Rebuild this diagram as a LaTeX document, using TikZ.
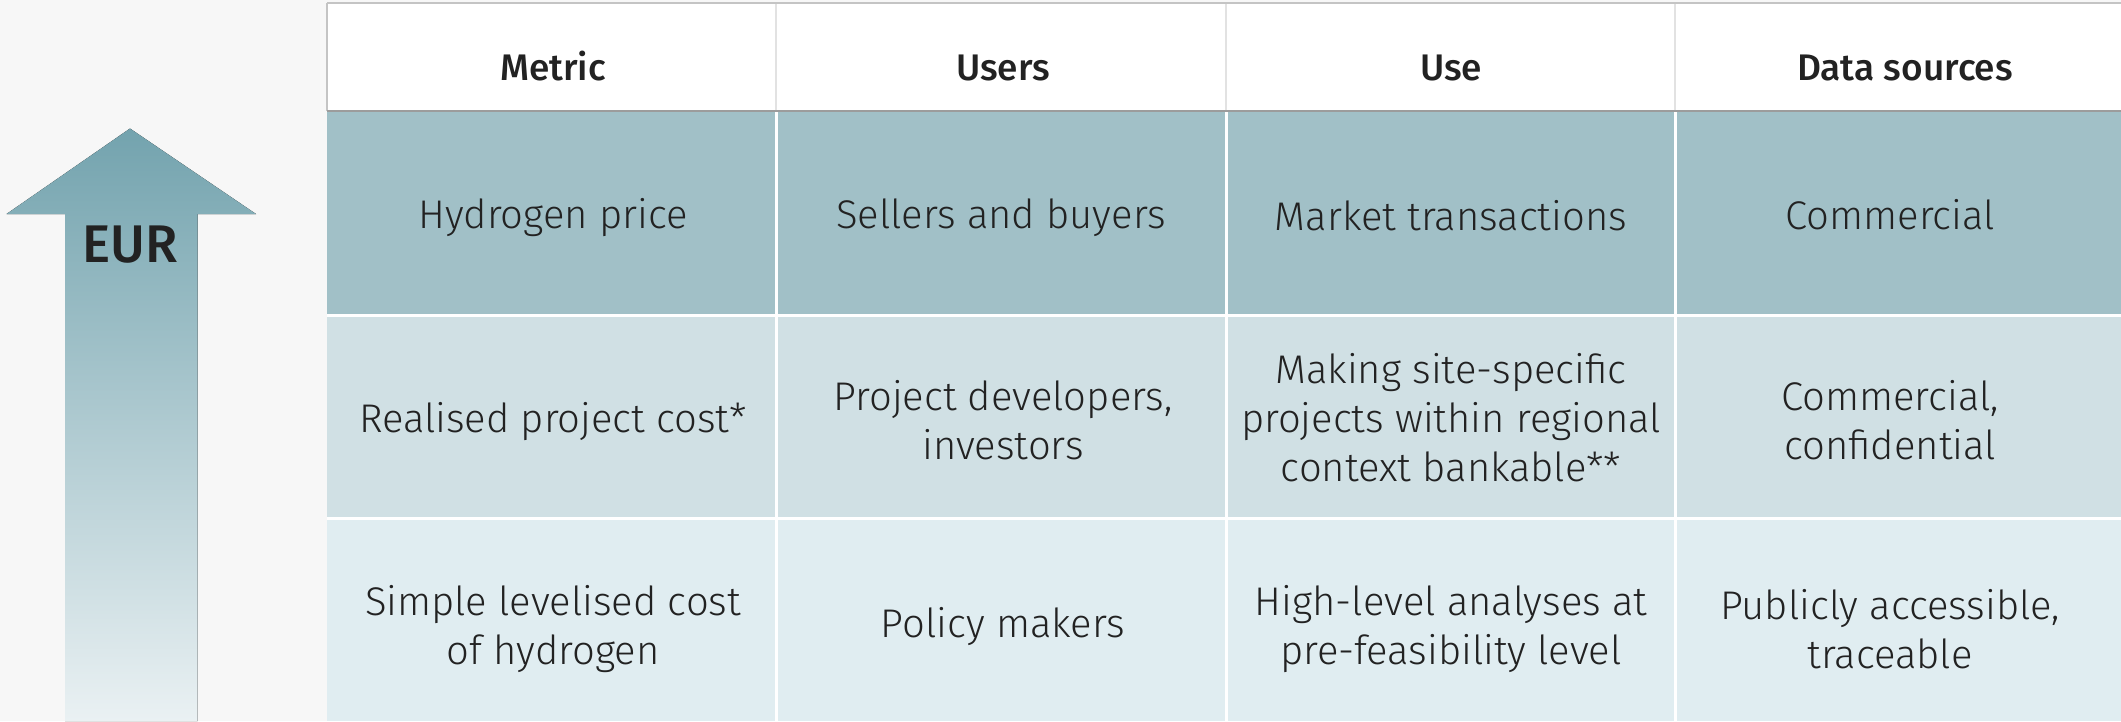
\documentclass[tikz,border=0pt]{standalone}
\usepackage{fontspec}
\setmainfont{Fira Sans}
\newfontfamily\celllight{Fira Sans Light}
\newfontfamily\headfont{Fira Sans Medium}
\definecolor{bgcol}{HTML}{F7F7F7}
\definecolor{rowA}{HTML}{A1C0C7}
\definecolor{rowB}{HTML}{D0E0E4}
\definecolor{rowC}{HTML}{E0EDF1}
\definecolor{arrtop}{HTML}{73A3AE}
\definecolor{arrbot}{HTML}{EAF1F3}
\definecolor{txt}{HTML}{222222}
\definecolor{hsep}{HTML}{E2E2E2}
\definecolor{hline}{HTML}{9C9C9C}
\definecolor{tline}{HTML}{C4C4C4}
\tikzset{
  cell/.style={font=\celllight\fontsize{40}{49}\selectfont, text=txt, align=center, inner sep=0pt},
  head/.style={font=\headfont\fontsize{37}{44}\selectfont, text=txt, anchor=base, inner sep=0pt},
  sepline/.style={white, line width=3pt},
}
\begin{document}
\begin{tikzpicture}[x=1pt,y=-1pt]
\useasboundingbox (0,0) rectangle (2121,721);
\fill[bgcol] (0,0) rectangle (2121,721);
% arrow
\fill[top color=arrtop, bottom color=arrbot] (130,128.5) -- (256,214) -- (197.5,214) -- (197.5,721) -- (65,721) -- (65,214) -- (6.5,214) -- cycle;
\node[font=\headfont\fontsize{53}{60}\selectfont, text=txt, inner sep=0pt] (eur) at (130,245) {EUR};
% header
\fill[white] (327,3) rectangle (2121,111);
\foreach \x in {776,1226,1675} \draw[hsep, line width=1.5pt] (\x,3) -- (\x,111);
\draw[tline, line width=1.2pt] (327,3) -- (327,111);
\draw[tline, line width=2pt] (327,2.5) -- (2121,2.5);
% body rows
\fill[rowA] (327,111) rectangle (2121,314);
\fill[rowB] (327,314) rectangle (2121,518);
\fill[rowC] (327,518) rectangle (2121,721);
\foreach \x in {776,1226,1675} \draw[sepline] (\x,112) -- (\x,721);
\draw[sepline] (327,315) -- (2121,315);
\draw[sepline] (327,518.5) -- (2121,518.5);
\draw[hline, line width=2.5pt] (327,111) -- (2121,111);
% header texts
\node[head] (h1) at (553,80) {Metric};
\node[head] (h2) at (1003,80) {Users};
\node[head] (h3) at (1451,80) {Use};
\node[head] (h4) at (1905,80) {Data sources};
% row 1
\node[cell] (a1) at (553,218) {Hydrogen price};
\node[cell] (a2) at (1001,218) {Sellers and buyers};
\node[cell] (a3) at (1451,216) {Market transactions};
\node[cell] (a4) at (1890,215) {Commercial};
% row 2
\node[cell] (b1) at (553,422) {Realised project cost*};
\node[cell] (b2) at (1003,420) {Project developers,\\investors};
\node[cell] (b3) at (1451,418) {Making site-specific\\projects within regional\\context bankable**};
\node[cell] (b4) at (1890,420) {Commercial,\\confidential};
% row 3
\node[cell] (c1) at (553,629) {Simple levelised cost\\of hydrogen};
\node[cell] (c2) at (1003,627) {Policy makers};
\node[cell] (c3) at (1451,629) {High-level analyses at\\pre-feasibility level};
\node[cell] (c4) at (1890,629) {Publicly accessible,\\traceable};
\end{tikzpicture}
\end{document}
